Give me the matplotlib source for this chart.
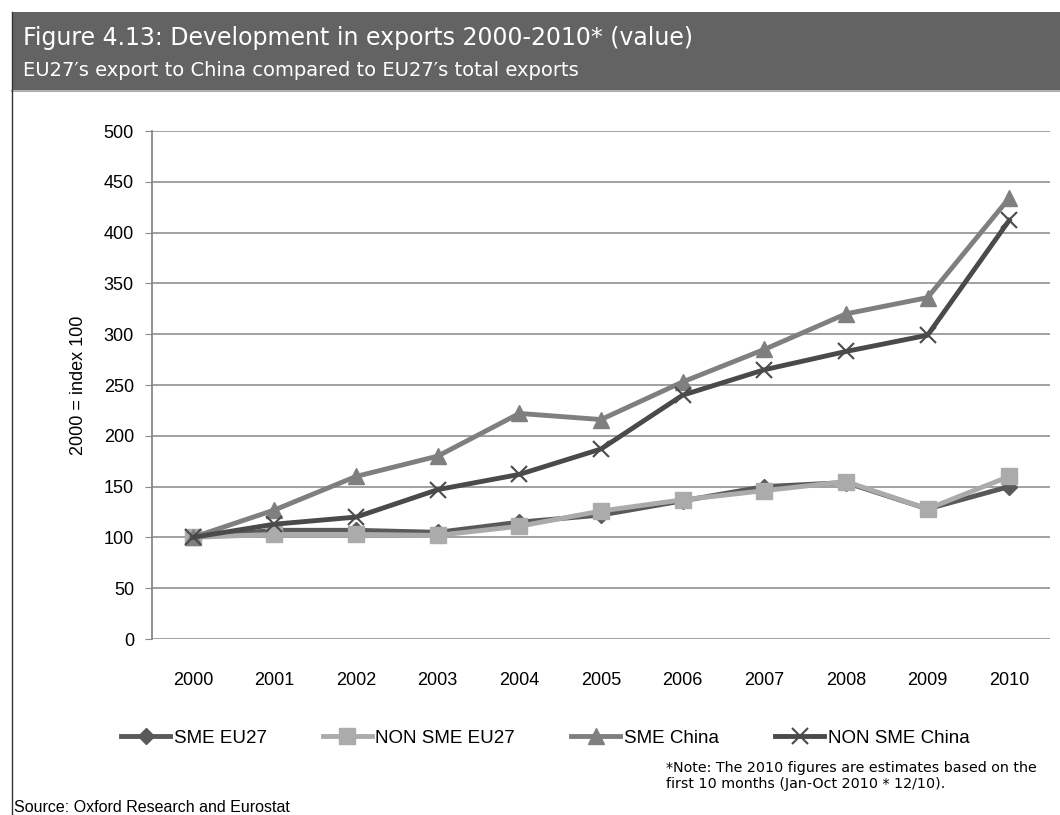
import matplotlib.pyplot as plt
from matplotlib.patches import Rectangle
from matplotlib.lines import Line2D

years = [2000, 2001, 2002, 2003, 2004, 2005, 2006, 2007, 2008, 2009, 2010]
sme_eu27 = [100, 107, 107, 105, 115, 122, 136, 150, 154, 128, 150]
non_sme_eu27 = [100, 103, 103, 102, 111, 126, 137, 146, 155, 128, 160]
sme_china = [100, 127, 160, 180, 222, 216, 253, 285, 320, 336, 434]
non_sme_china = [100, 113, 120, 147, 162, 187, 240, 265, 283, 299, 412]

series = [
    ("SME EU27", sme_eu27, "#595959", "D", 8),
    ("NON SME EU27", non_sme_eu27, "#ababab", "s", 11),
    ("SME China", sme_china, "#7f7f7f", "^", 12),
    ("NON SME China", non_sme_china, "#4a4a4a", "x", 12),
]

plt.rcParams['font.family'] = ['Liberation Sans', 'DejaVu Sans']

fig = plt.figure(figsize=(10.6, 8.15), dpi=100)

# header band
band_top, band_bot = 12, 90
fig.patches.append(Rectangle((12 / 1060, 1 - band_bot / 815), 1, (band_bot - band_top) / 815,
                             transform=fig.transFigure, facecolor="#636363", edgecolor="none"))
fig.add_artist(Line2D([12 / 1060, 1], [1 - (band_bot + 1) / 815] * 2, transform=fig.transFigure,
                      color="#b0b0b0", lw=1.5))
fig.add_artist(Line2D([12 / 1060] * 2, [0, 1 - band_top / 815], transform=fig.transFigure,
                      color="#333333", lw=1))
fig.text(23 / 1060, 1 - 38 / 815, "Figure 4.13: Development in exports 2000-2010* (value)",
         color="white", fontsize=17, family="DejaVu Sans", va="center")
fig.text(23 / 1060, 1 - 70 / 815, "EU27\u2032s export to China compared to EU27\u2032s total exports",
         color="white", fontsize=14, family="DejaVu Sans", va="center")

ax = fig.add_axes([152 / 1060, 1 - 639 / 815, 898 / 1060, 508 / 815])
x = list(range(len(years)))
for name, vals, color, marker, ms in series:
    if marker == "x":
        ax.plot(x, vals, color=color, lw=3.5, marker=marker, ms=ms, mew=1.5, label=name, zorder=3)
    else:
        ax.plot(x, vals, color=color, lw=3.5, marker=marker, ms=ms, mec=color, label=name, zorder=3)

ax.set_ylim(0, 500)
ax.set_xlim(-0.5, len(years) - 0.5)
ax.set_yticks(range(0, 501, 50))
ax.set_xticks(x)
ax.set_xticklabels([str(y) for y in years])
ax.tick_params(axis="y", labelsize=13, length=5, color="#888888", pad=8)
ax.tick_params(axis="x", labelsize=13, length=0, pad=24)
ax.grid(axis="y", color="#999999", lw=1.3)
ax.set_axisbelow(True)
for s in ["top", "right", "bottom"]:
    ax.spines[s].set_visible(False)
ax.spines["left"].set_color("#888888")
ax.spines["left"].set_linewidth(1.3)
ax.set_ylabel("2000 = index 100", fontsize=13, labelpad=12)

ax.legend(loc="center", bbox_to_anchor=(0.438, -0.195), ncol=4, frameon=False,
          fontsize=13.5, handlelength=2.6, columnspacing=3.0, handletextpad=0.2)

fig.text(666 / 1060, 1 - 776 / 815, "*Note: The 2010 figures are estimates based on the\nfirst 10 months (Jan-Oct 2010 * 12/10).",
         fontsize=10.3, family="DejaVu Sans", va="center", linespacing=1.2)
fig.text(14 / 1060, 1 - 807 / 815, "Source: Oxford Research and Eurostat", fontsize=11.5, va="center")

plt.savefig("out.png", dpi=100)
